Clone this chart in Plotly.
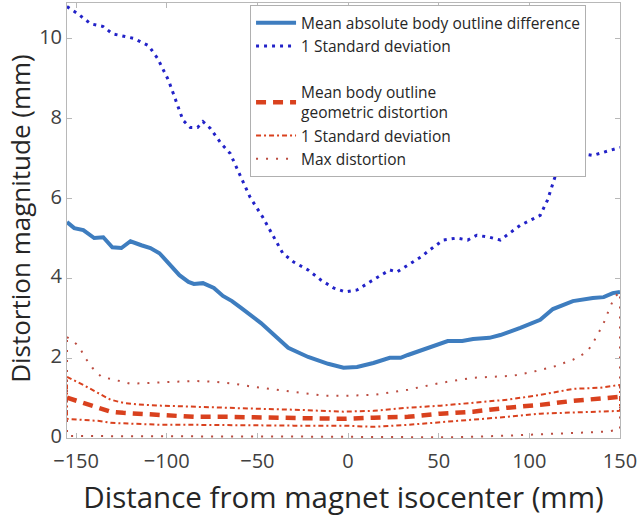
import plotly.graph_objects as go

# ---- data ----
x_mad = [-155, -151, -146, -140, -135, -130, -125, -120, -114, -109, -104, -99, -93, -88, -85, -80, -74,
         -69, -64, -59, -48, -33, -22, -11, -2.5, 5, 14, 23, 29, 33, 45, 55, 63, 69, 78, 84, 95, 106,
         113, 124, 135, 141, 146, 150]
y_mad = [5.41, 5.26, 5.21, 5.01, 5.03, 4.78, 4.76, 4.93, 4.83, 4.76, 4.63, 4.38, 4.08, 3.91, 3.86, 3.88,
         3.76, 3.56, 3.43, 3.26, 2.88, 2.26, 2.03, 1.86, 1.76, 1.78, 1.88, 2.01, 2.01, 2.08, 2.28, 2.43,
         2.43, 2.48, 2.51, 2.58, 2.76, 2.96, 3.23, 3.43, 3.51, 3.53, 3.63, 3.66]

x_mad_sd = [-155, -149, -142, -135, -130, -125, -118, -110, -105, -99, -95, -91, -87, -83, -80, -76, -70,
            -65, -59, -54, -47, -41, -36, -30, -22, -15, -8, -1.4, 5, 12, 18, 23, 27, 33, 40, 47, 52.5,
            60, 66, 71, 78, 84, 95, 106, 110, 115, 120, 125, 128, 135, 141, 150]
y_mad_sd = [10.81, 10.63, 10.38, 10.31, 10.13, 10.08, 10.01, 9.83, 9.51, 8.96, 8.46, 7.96, 7.78, 7.78,
            7.93, 7.76, 7.38, 7.13, 6.53, 6.03, 5.53, 5.03, 4.63, 4.41, 4.21, 3.96, 3.76, 3.66, 3.71,
            3.91, 4.08, 4.21, 4.16, 4.33, 4.53, 4.78, 4.96, 5.01, 4.96, 5.08, 5.03, 4.96, 5.33, 5.58,
            5.96, 6.66, 6.71, 6.96, 7.13, 7.08, 7.16, 7.28]

x_geo = [-155, -146, -138, -131, -124, -116, -103, -85, -66, -48, -30, -2.5, 14, 33, 51, 69, 88, 106,
         124, 139, 150]
y_geo_mean = [1.01, 0.88, 0.76, 0.66, 0.63, 0.61, 0.56, 0.53, 0.53, 0.51, 0.51, 0.48, 0.51, 0.53, 0.61,
              0.66, 0.76, 0.83, 0.93, 0.98, 1.03]
y_geo_sd_hi = [1.53, 1.33, 1.13, 0.96, 0.88, 0.84, 0.81, 0.78, 0.76, 0.73, 0.71, 0.66, 0.68, 0.76, 0.81,
               0.88, 0.96, 1.08, 1.23, 1.26, 1.33]
y_geo_sd_lo = [0.48, 0.45, 0.43, 0.38, 0.36, 0.35, 0.33, 0.33, 0.33, 0.32, 0.31, 0.31, 0.28, 0.33, 0.38,
               0.46, 0.53, 0.61, 0.63, 0.66, 0.68]

x_max = [-155, -150, -147, -145, -141, -136, -129, -120, -110, -98, -85, -74, -63, -52, -39, -26, -13.5,
         0, 14, 33, 51, 69, 80, 91, 102, 113, 124, 132, 137, 141, 144.5, 147, 150]
y_max = [2.53, 2.36, 2.18, 2.01, 1.76, 1.53, 1.46, 1.36, 1.38, 1.41, 1.43, 1.41, 1.36, 1.28, 1.21, 1.13,
         1.06, 1.06, 1.08, 1.21, 1.38, 1.51, 1.53, 1.56, 1.66, 1.78, 1.96, 2.16, 2.53, 2.88, 3.28, 3.53,
         3.66]
x_min = [-155, -120, -80, -50, -20, 10, 40, 60, 75, 88, 106, 124, 143, 150]
y_min = [0.05, 0.04, 0.04, 0.04, 0.03, 0.03, 0.02, 0.02, 0.04, 0.06, 0.09, 0.12, 0.16, 0.22]

x_ticks = [-150, -100, -50, 0, 50, 100, 150]
y_ticks = [0, 2, 4, 6, 8, 10]

# closed outlines (upper band, then lower band back), as drawn in the reference
sd_x = x_geo + x_geo[::-1] + [x_geo[0]]
sd_y = y_geo_sd_hi + y_geo_sd_lo[::-1] + [y_geo_sd_hi[0]]
mx_x = x_max + x_min[::-1] + [x_max[0]]
mx_y = y_max + y_min[::-1] + [y_max[0]]

RED = "#d9411e"
FONT = "Open Sans"

fig = go.Figure()
fig.add_trace(go.Scatter(x=x_mad, y=y_mad, mode="lines", name="Mean absolute body outline difference",
                         line=dict(color="#3e7dbf", width=4), legendrank=1000))
fig.add_trace(go.Scatter(x=x_mad_sd, y=y_mad_sd, mode="lines", name="1 Standard deviation",
                         line=dict(color="#2222c8", width=3, dash="3px,5px"), legendrank=1001))
fig.add_trace(go.Scatter(x=[None], y=[None], mode="lines", name=" ",
                         line=dict(color="rgba(0,0,0,0)", width=0), legendrank=1002))
fig.add_trace(go.Scatter(x=sd_x, y=sd_y, mode="lines", name="1 Standard deviation ",
                         line=dict(color=RED, width=2, dash="5px,3px,2px,3px"), legendrank=1004))
fig.add_trace(go.Scatter(x=x_geo, y=y_geo_mean, mode="lines",
                         name="Mean body outline<br>geometric distortion",
                         line=dict(color=RED, width=4.5, dash="10px,7px"), legendrank=1003))
fig.add_trace(go.Scatter(x=mx_x, y=mx_y, mode="lines", name="Max distortion",
                         line=dict(color="#bb4c40", width=2, dash="2px,8px"), legendrank=1005))

axis_common = dict(showgrid=False, zeroline=False, showline=True, linecolor="#b8b8b8", linewidth=1,
                   mirror="ticks", ticks="inside", ticklen=5, tickcolor="#b8b8b8",
                   ticklabeloverflow="allow",
                   tickfont=dict(family=FONT, size=20, color="#404040"))

fig.update_layout(
    width=640, height=526,
    margin=dict(l=67, r=20, t=3, b=88),
    paper_bgcolor="white", plot_bgcolor="white",
    font=dict(family=FONT, color="#262626"),
    showlegend=True,
    legend=dict(x=0.331, y=0.995, xanchor="left", yanchor="top",
                bgcolor="white", bordercolor="#b0b0b0", borderwidth=1,
                font=dict(family=FONT, size=15.5, color="#262626"),
                tracegroupgap=0, itemwidth=40),
    xaxis=dict(range=[-155, 150], tickvals=x_ticks, ticklabelstandoff=5, **axis_common,
               title=dict(text="Distance from magnet isocenter (mm)",
                          font=dict(family=FONT, size=29.5, color="#262626"), standoff=14)),
    yaxis=dict(range=[0, 10.9], tickvals=y_ticks, ticklabelshift=-2, **axis_common),
    annotations=[dict(text="Distortion magnitude (mm)", textangle=-90,
                      xref="paper", yref="paper", x=-0.084, y=0.505,
                      xanchor="center", yanchor="middle", showarrow=False,
                      font=dict(family=FONT, size=26, color="#262626"))],
)

fig.write_html("out.html", config={"displayModeBar": False},
               post_script="document.body.style.margin='0';")
